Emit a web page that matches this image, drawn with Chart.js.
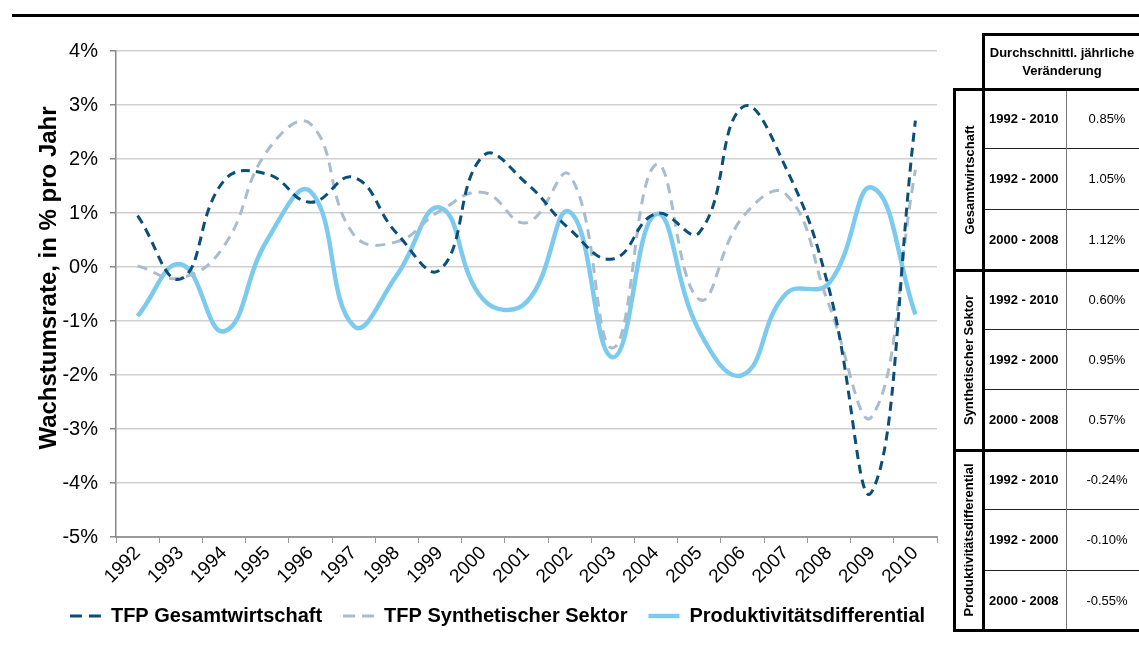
<!DOCTYPE html>
<html>
<head>
<meta charset="utf-8">
<script src="https://cdn.jsdelivr.net/npm/chart.js@4.4.1/dist/chart.umd.min.js"></script>
<style>
  html, body { margin: 0; padding: 0; background: #fff; }
  #wrap { position: relative; width: 1139px; height: 645px; overflow: hidden; font-family: "Liberation Sans", Arial, sans-serif; }
  #c { position: absolute; left: 0; top: 0; }
  .ln { position: absolute; background: #000; }
  .txt { position: absolute; display: flex; align-items: center; color: #000; font-size: 13px; }
  .rot { position: absolute; display: flex; align-items: center; justify-content: center; transform: rotate(-90deg); font-weight: bold; font-size: 13px; white-space: nowrap; }
  #ytitle { position: absolute; width: 420px; height: 30px; left: -162px; top: 263px; display: flex; align-items: center; justify-content: center; transform: rotate(-90deg); font-weight: bold; font-size: 24px; white-space: nowrap; color: #000; }
</style>
</head>
<body>
<div id="wrap">
  <canvas id="c" width="995" height="645"></canvas>
  <div id="ytitle"></div>
  <div id="table"></div>
</div>
<script>
// ---- Data ----
const years = ['1992','1993','1994','1995','1996','1997','1998','1999','2000','2001','2002','2003','2004','2005','2006','2007','2008','2009','2010'];
const tfpGesamt = [0.95, -0.22, 1.6, 1.72, 1.2, 1.66, 0.62, -0.05, 2.06, 1.55, 0.7, 0.15, 0.99, 0.64, 2.96, 1.84, -0.4, -4.15, 2.71];
const tfpSynth  = [0.02, -0.2, 0.39, 2.15, 2.65, 0.6, 0.47, 1.04, 1.38, 0.82, 1.7, -1.5, 1.9, -0.6, 0.92, 1.35, -0.7, -2.76, 1.8];
const prodDiff  = [-0.91, 0.05, -1.19, 0.5, 1.4, -1.09, -0.15, 1.1, -0.6, -0.65, 1.02, -1.67, 0.98, -1.19, -2.0, -0.5, -0.3, 1.47, -0.88];
const seriesNames = ['TFP Gesamtwirtschaft', 'TFP Synthetischer Sektor', 'Produktivitätsdifferential'];
const yMin = -5, yMax = 4;
const yTitle = 'Wachstumsrate, in % pro Jahr';

const tableHeader = ['Durchschnittl. jährliche', 'Veränderung'];
const tableGroups = ['Gesamtwirtschaft', 'Synthetischer Sektor', 'Produktivitätsdifferential'];
const tablePeriods = ['1992 - 2010', '1992 - 2000', '2000 - 2008'];
const tableValues = [['0.85%', '1.05%', '1.12%'], ['0.60%', '0.95%', '0.57%'], ['-0.24%', '-0.10%', '-0.55%']];

const FONT = '"Liberation Sans", Arial, sans-serif';

document.getElementById('ytitle').textContent = yTitle;

// ---- Chart ----
new Chart(document.getElementById('c'), {
  type: 'line',
  data: {
    labels: years,
    datasets: [
      { label: seriesNames[0], data: tfpGesamt, borderColor: '#0b4f78', backgroundColor: '#0b4f78', borderWidth: 3, borderDash: [9, 6], pointRadius: 0, tension: 0.45, fill: false },
      { label: seriesNames[1], data: tfpSynth, borderColor: '#a8bccb', backgroundColor: '#a8bccb', borderWidth: 3, borderDash: [10, 7], pointRadius: 0, tension: 0.45, fill: false },
      { label: seriesNames[2], data: prodDiff, borderColor: '#7dcaef', backgroundColor: '#7dcaef', borderWidth: 4.5, borderDash: [], pointRadius: 0, tension: 0.45, fill: false }
    ]
  },
  options: {
    responsive: false,
    animation: false,
    layout: { padding: { top: 51, left: 0, right: 0, bottom: 9 } },
    plugins: {
      legend: {
        position: 'bottom',
        labels: {
          usePointStyle: true, pointStyleWidth: 31, padding: 21, color: '#000',
          font: { family: FONT, size: 20, weight: 'bold' },
          generateLabels: (chart) => chart.data.datasets.map((ds, i) => ({
            text: ds.label,
            fillStyle: ds.borderColor,
            strokeStyle: ds.borderColor,
            lineWidth: ds.borderWidth,
            lineDash: (ds.borderDash && ds.borderDash.length) ? [12, 7] : [],
            lineCap: 'butt',
            pointStyle: 'line',
            hidden: false,
            fontColor: '#000',
            datasetIndex: i
          }))
        }
      },
      tooltip: { enabled: false }
    },
    scales: {
      x: {
        offset: true,
        grid: { display: true, drawOnChartArea: false, drawTicks: true, tickLength: 6, offset: true, color: '#999', tickColor: '#999' },
        border: { color: '#999', width: 2 },
        ticks: { autoSkip: false, maxRotation: 45, minRotation: 45, padding: -1, color: '#000', font: { family: FONT, size: 19 } },
        afterFit(s) { s.height = 48; }
      },
      y: {
        min: yMin, max: yMax,
        grid: { color: '#d0d0d0', lineWidth: 1.5, tickColor: '#888', tickLength: 6 },
        border: { color: '#888', width: 1.5 },
        ticks: { stepSize: 1, padding: 12, color: '#000', font: { family: FONT, size: 20 }, callback: v => v + '%' },
        afterFit(s) { s.width = 116; }
      },
      y2: {
        position: 'right', min: yMin, max: yMax, display: true,
        grid: { display: false, drawTicks: false },
        border: { display: false },
        ticks: { display: false },
        afterFit(s) { s.width = 58; }
      }
    }
  }
});

// ---- Table (HTML) ----
const T = document.getElementById('table');
function line(x, y, w, h, color) {
  const d = document.createElement('div');
  d.className = 'ln';
  d.style.left = x + 'px'; d.style.top = y + 'px'; d.style.width = w + 'px'; d.style.height = h + 'px';
  if (color) d.style.background = color;
  T.appendChild(d);
}
function text(x, y, w, h, html, opts) {
  const d = document.createElement('div');
  d.className = 'txt';
  d.style.left = x + 'px'; d.style.top = y + 'px'; d.style.width = w + 'px'; d.style.height = h + 'px';
  d.innerHTML = html;
  Object.assign(d.style, opts || {});
  T.appendChild(d);
}
// top rule
line(12, 13.5, 1127, 3);

const rowTops = [89, 148.5, 209, 270, 329.5, 389.5, 450, 509.5, 570, 630];
// header
text(983, 36, 158, 52, tableHeader.join('<br>'), { justifyContent: 'center', textAlign: 'center', fontWeight: 'bold', lineHeight: '18px', whiteSpace: 'nowrap' });
// rows
for (let g = 0; g < 3; g++) {
  for (let r = 0; r < 3; r++) {
    const i = g * 3 + r;
    const top = rowTops[i], h = rowTops[i + 1] - rowTops[i];
    text(989, top, 78, h, tablePeriods[r], { fontWeight: 'bold', whiteSpace: 'nowrap' });
    text(1066, top, 82, h, tableValues[g][r], { justifyContent: 'center' });
  }
  const gTop = rowTops[g * 3], gBot = rowTops[g * 3 + 3], gh = gBot - gTop;
  const d = document.createElement('div');
  d.className = 'rot';
  d.style.width = gh + 'px'; d.style.height = '30px';
  d.style.left = (968 - gh / 2) + 'px';
  d.style.top = ((gTop + gBot) / 2 - 15) + 'px';
  d.textContent = tableGroups[g];
  T.appendChild(d);
}
// thin row lines
[148.5, 209, 329.5, 389.5, 509.5, 570].forEach(y => line(983, y - 0.5, 156, 1, '#222'));
// middle column line
line(1065.5, 89, 1, 541, '#777');
// thick lines
line(983, 32.5, 156, 3);
line(982, 32.5, 3, 599);
line(952.5, 87.5, 3, 544);
[87.5, 268.5, 448.5, 628.5].forEach(y => line(952.5, y, 187, 3));
</script>
</body>
</html>
